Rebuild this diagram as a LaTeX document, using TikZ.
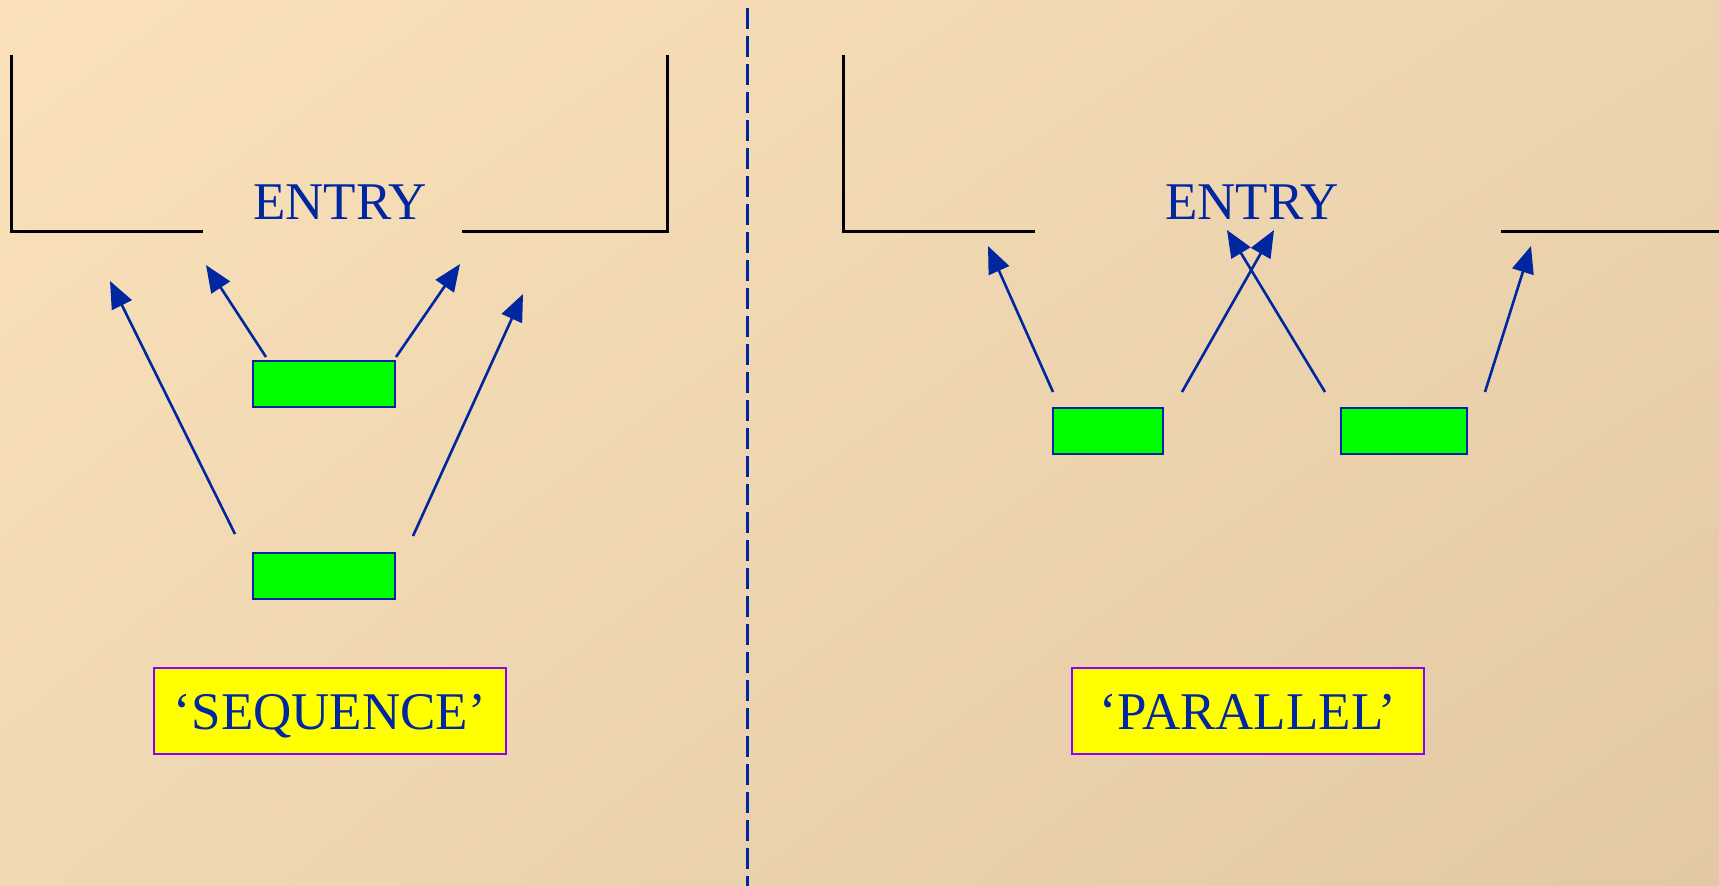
\documentclass[tikz,border=0pt]{standalone}
\usepackage{fontspec}
\setmainfont{Liberation Serif}
\usetikzlibrary{arrows.meta,shadings}
\definecolor{inkblue}{RGB}{0,38,160}
\definecolor{bgtl}{RGB}{250,225,186}
\definecolor{bgtr}{RGB}{236,212,174}
\definecolor{bgbl}{RGB}{240,216,178}
\definecolor{bgbr}{RGB}{226,201,164}
\definecolor{boxgreen}{RGB}{0,255,0}
\definecolor{labelyellow}{RGB}{255,255,0}
\definecolor{labelpurple}{RGB}{140,0,255}
\tikzset{
  bracket/.style={draw=black,line width=3pt},
  entrytext/.style={text=inkblue,font=\fontsize{53}{60}\selectfont,inner sep=0pt,anchor=base},
  greenbox/.style={draw=inkblue,fill=boxgreen,line width=2.5pt,inner sep=0pt},
  flow/.style={draw=inkblue,line width=2.6pt,-{Triangle[length=27pt,width=22pt]}},
  labelbox/.style={draw=labelpurple,fill=labelyellow,line width=2pt,text=inkblue,
    font=\fontsize{53}{60}\selectfont,minimum width=352pt,minimum height=86pt,inner sep=0pt,
    text height=36pt,text depth=0pt},
  divider/.style={draw=inkblue,line width=3pt,dash pattern=on 21pt off 7pt}
}
\begin{document}
\begin{tikzpicture}[x=1pt,y=-1pt]
\useasboundingbox (0,0) rectangle (1719,886);
\shade[upper left=bgtl,upper right=bgtr,lower left=bgbl,lower right=bgbr] (0,0) rectangle (1719,886);

% divider
\coordinate (dtop) at (747,8);
\coordinate (dbot) at (747,886);
\draw[divider] (dtop) -- (dbot);

% ---------- left: sequence ----------
\coordinate (l1) at (11,55);
\coordinate (l2) at (11,231);
\coordinate (l3) at (203,231);
\coordinate (r1) at (462,231);
\coordinate (r2) at (667,231);
\coordinate (r3) at (667,55);
\draw[bracket] (l1) -- (l2) -- (l3);
\draw[bracket] (r1) -- (r2) -- (r3);
\node[entrytext] (entryL) at (340,219) {ENTRY};

\node[greenbox,minimum width=142pt,minimum height=46pt] (sTop) at (324,384) {};
\node[greenbox,minimum width=142pt,minimum height=46pt] (sBot) at (324,576) {};

\coordinate (a1s) at (235,534); \coordinate (a1t) at (110,281);
\coordinate (a2s) at (266,357); \coordinate (a2t) at (206,265);
\coordinate (a3s) at (396,357); \coordinate (a3t) at (460,264);
\coordinate (a4s) at (413,536); \coordinate (a4t) at (523,294);
\draw[flow] (a1s) -- (a1t);
\draw[flow] (a2s) -- (a2t);
\draw[flow] (a3s) -- (a3t);
\draw[flow] (a4s) -- (a4t);

\node[labelbox] (seq) at (330,711) {‘SEQUENCE’};

% ---------- right: parallel ----------
\coordinate (m1) at (843,55);
\coordinate (m2) at (843,231);
\coordinate (m3) at (1035,231);
\coordinate (n1) at (1501,231);
\coordinate (n2) at (1719,231);
\draw[bracket] (m1) -- (m2) -- (m3);
\draw[bracket] (n1) -- (n2);
\node[entrytext] (entryR) at (1252,219) {ENTRY};

\node[greenbox,minimum width=110pt,minimum height=46pt] (pA) at (1108,431) {};
\node[greenbox,minimum width=126pt,minimum height=46pt] (pB) at (1404,431) {};

\coordinate (b1s) at (1053,392); \coordinate (b1t) at (988,246);
\coordinate (b2s) at (1182,392); \coordinate (b2t) at (1274,230);
\coordinate (b3s) at (1325,392); \coordinate (b3t) at (1227,230);
\coordinate (b4s) at (1485,392); \coordinate (b4t) at (1531,246);
\draw[flow] (b1s) -- (b1t);
\draw[flow] (b2s) -- (b2t);
\draw[flow] (b3s) -- (b3t);
\draw[flow] (b4s) -- (b4t);

\node[labelbox] (par) at (1248,711) {‘PARALLEL’};
\end{tikzpicture}
\end{document}
